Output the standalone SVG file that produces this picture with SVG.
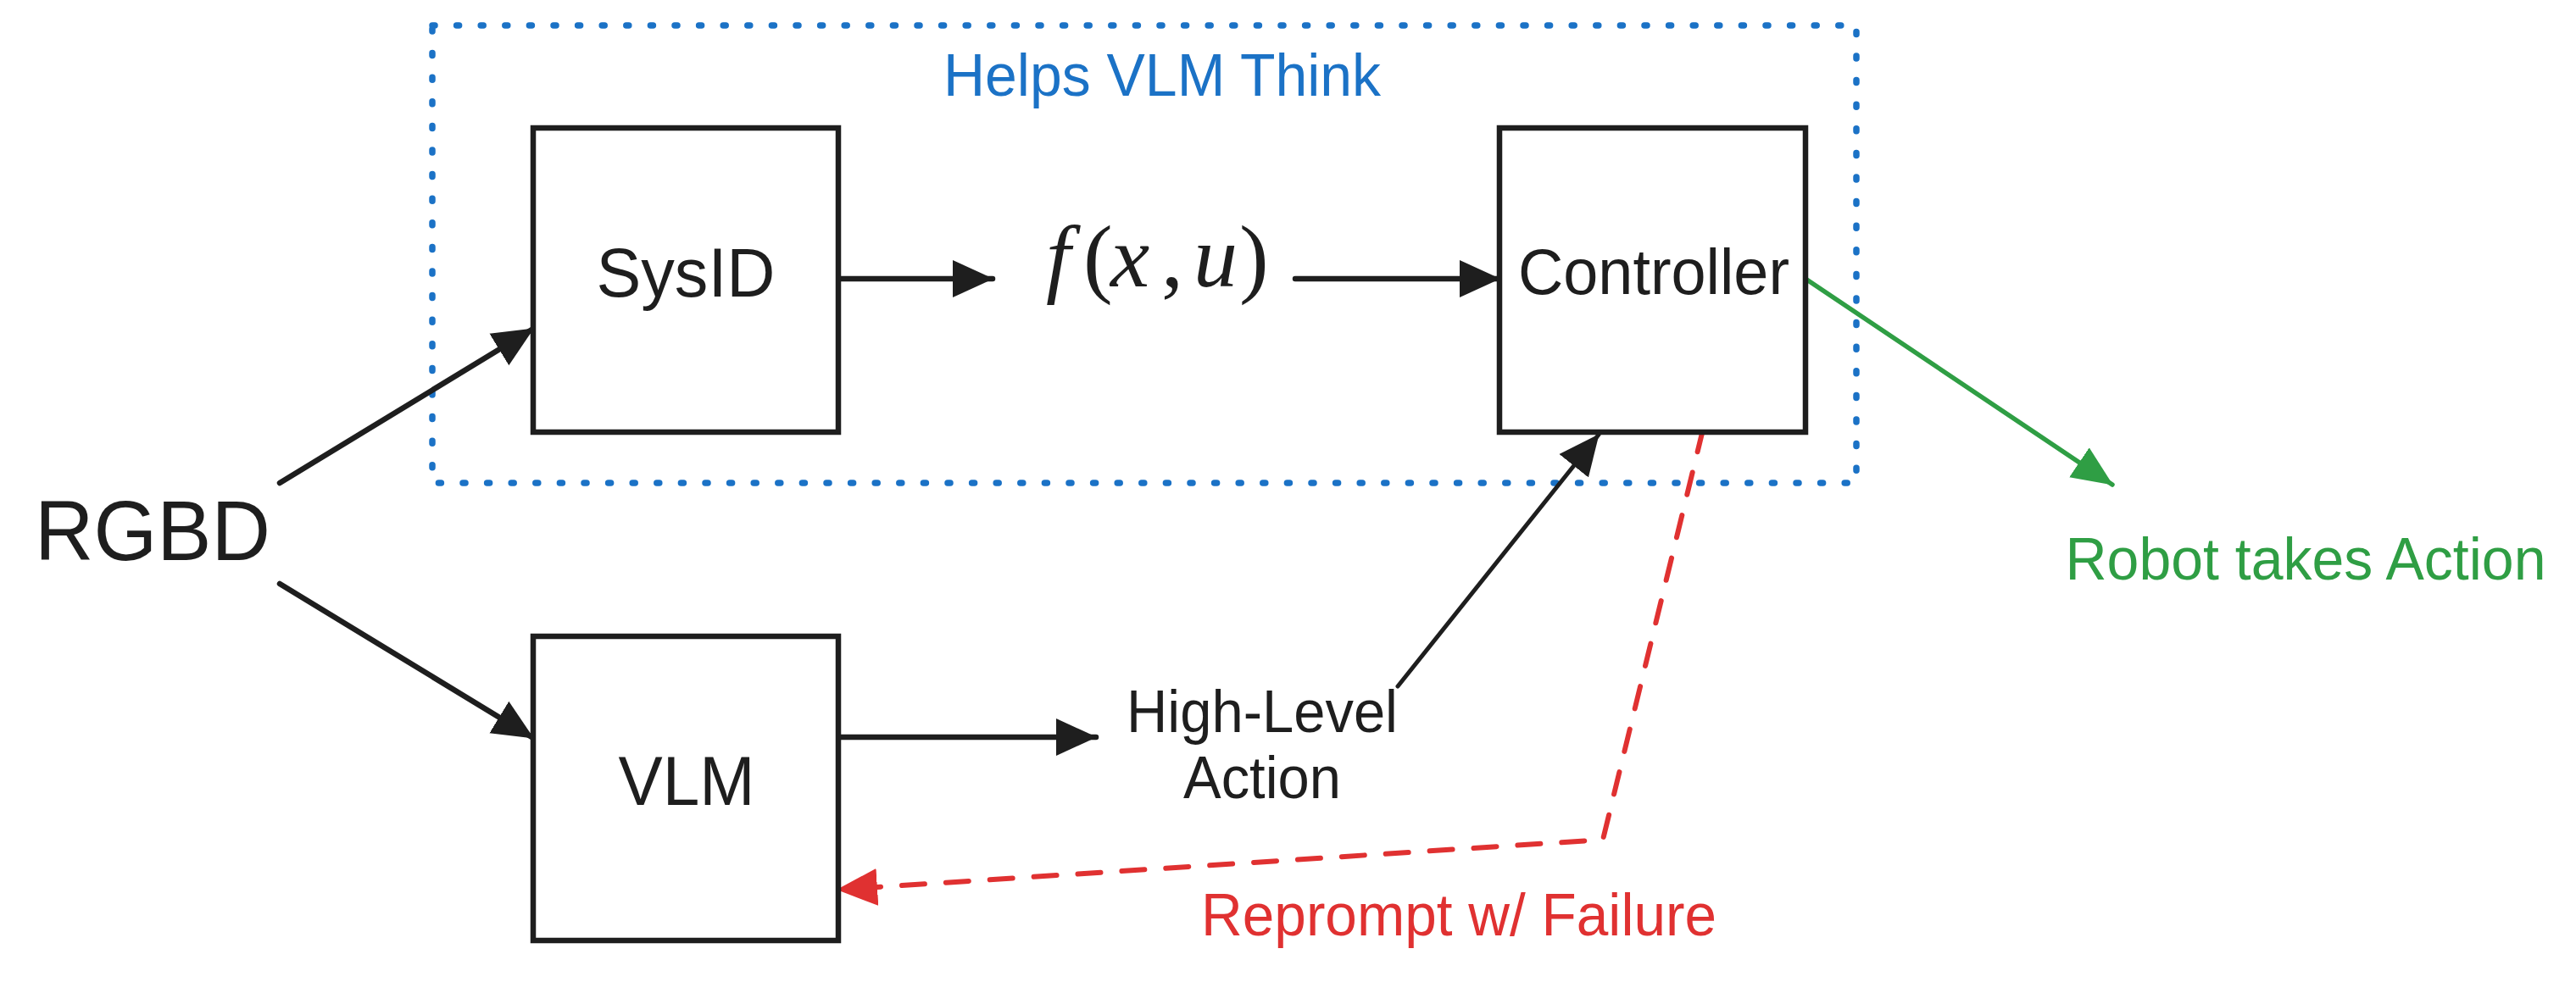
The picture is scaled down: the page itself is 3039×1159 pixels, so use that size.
<svg xmlns="http://www.w3.org/2000/svg" width="3039" height="1159" viewBox="0 0 3039 1159">
<style>
.box{fill:#ffffff;stroke:#1e1e1e;stroke-width:6.5}
.lbl{font-family:"Liberation Sans",Arial,sans-serif;fill:#1e1e1e}
.blk{fill:none;stroke:#1e1e1e;stroke-width:6.5;stroke-linecap:round}
.math{font-family:"Liberation Serif","Times New Roman",serif;fill:#1e1e1e;font-size:104px}
</style>
<defs>
<marker id="ahB" markerUnits="userSpaceOnUse" viewBox="0 -23 48 46" refX="47" refY="0" markerWidth="48" markerHeight="46" orient="auto">
<path d="M0,-22 L48,0 L0,22 z" fill="#1e1e1e"/>
</marker>
<marker id="ahG" markerUnits="userSpaceOnUse" viewBox="0 -23 48 46" refX="47" refY="0" markerWidth="48" markerHeight="46" orient="auto">
<path d="M0,-21 L48,0 L0,21 z" fill="#2f9e44"/>
</marker>
<marker id="ahR" markerUnits="userSpaceOnUse" viewBox="0 -23 48 46" refX="47" refY="0" markerWidth="48" markerHeight="46" orient="auto">
<path d="M0,-22 L48,0 L0,22 z" fill="#e03131"/>
</marker>
</defs>
<rect width="3039" height="1159" fill="#ffffff"/>

<g id="group-helps">
<rect x="510" y="30" width="1680" height="540" fill="none" stroke="#1b72c6" stroke-width="7.5" stroke-linecap="round" stroke-dasharray="3 25.6"/>
<text x="1371" y="113" text-anchor="middle" font-family="Liberation Sans,Arial,sans-serif" font-size="70" fill="#1b72c6" textLength="516" lengthAdjust="spacingAndGlyphs">Helps VLM Think</text>
</g>

<g id="connectors">
<line class="blk" x1="330" y1="570" x2="629" y2="388" marker-end="url(#ahB)"/>
<line class="blk" x1="330" y1="689" x2="629" y2="871" marker-end="url(#ahB)"/>
<line class="blk" x1="989" y1="329" x2="1171" y2="329" marker-end="url(#ahB)"/>
<line class="blk" x1="1528" y1="329" x2="1769" y2="329" marker-end="url(#ahB)"/>
<line class="blk" x1="989" y1="870" x2="1293" y2="870" marker-end="url(#ahB)"/>
<line class="blk" style="stroke-width:5" x1="1649" y1="810" x2="1886" y2="513" marker-end="url(#ahB)"/>
<line x1="2130" y1="329" x2="2492" y2="572" stroke="#2f9e44" stroke-width="5.5" stroke-linecap="round" marker-end="url(#ahG)"/>
<path d="M2009,507 L1891,991 L988,1050" fill="none" stroke="#e03131" stroke-width="6" stroke-linecap="round" stroke-dasharray="27 25" marker-end="url(#ahR)"/>
</g>

<g id="node-rgbd">
<text class="lbl" x="41" y="661" font-size="100" textLength="278" lengthAdjust="spacingAndGlyphs">RGBD</text>
</g>

<g id="node-sysid">
<rect class="box" x="629" y="151" width="360" height="359"/>
<text class="lbl" x="809" y="350" font-size="82" text-anchor="middle" textLength="211" lengthAdjust="spacingAndGlyphs">SysID</text>
</g>

<g id="node-fxu">
<text class="math" y="338"><tspan x="1234" font-style="italic">f</tspan><tspan x="1278">(</tspan><tspan x="1310" font-style="italic">x</tspan><tspan x="1370">,</tspan><tspan x="1408" font-style="italic">u</tspan><tspan x="1462">)</tspan></text>
</g>

<g id="node-controller">
<rect class="box" x="1769" y="151" width="361" height="359"/>
<text class="lbl" x="1951" y="347" font-size="76" text-anchor="middle" textLength="320" lengthAdjust="spacingAndGlyphs">Controller</text>
</g>

<g id="node-vlm">
<rect class="box" x="629" y="751" width="360" height="359"/>
<text class="lbl" x="810" y="950" font-size="82" text-anchor="middle" textLength="161" lengthAdjust="spacingAndGlyphs">VLM</text>
</g>

<g id="node-highlevel">
<text class="lbl" x="1489" y="864" font-size="70" text-anchor="middle" textLength="320" lengthAdjust="spacingAndGlyphs">High-Level</text>
<text class="lbl" x="1489" y="942" font-size="70" text-anchor="middle" textLength="186" lengthAdjust="spacingAndGlyphs">Action</text>
</g>

<g id="node-robot">
<text x="2720" y="684" text-anchor="middle" font-family="Liberation Sans,Arial,sans-serif" font-size="70" fill="#2f9e44" textLength="567" lengthAdjust="spacingAndGlyphs">Robot takes Action</text>
</g>

<g id="node-reprompt">
<text x="1721" y="1104" text-anchor="middle" font-family="Liberation Sans,Arial,sans-serif" font-size="70" fill="#e03131" textLength="608" lengthAdjust="spacingAndGlyphs">Reprompt w/ Failure</text>
</g>
</svg>
